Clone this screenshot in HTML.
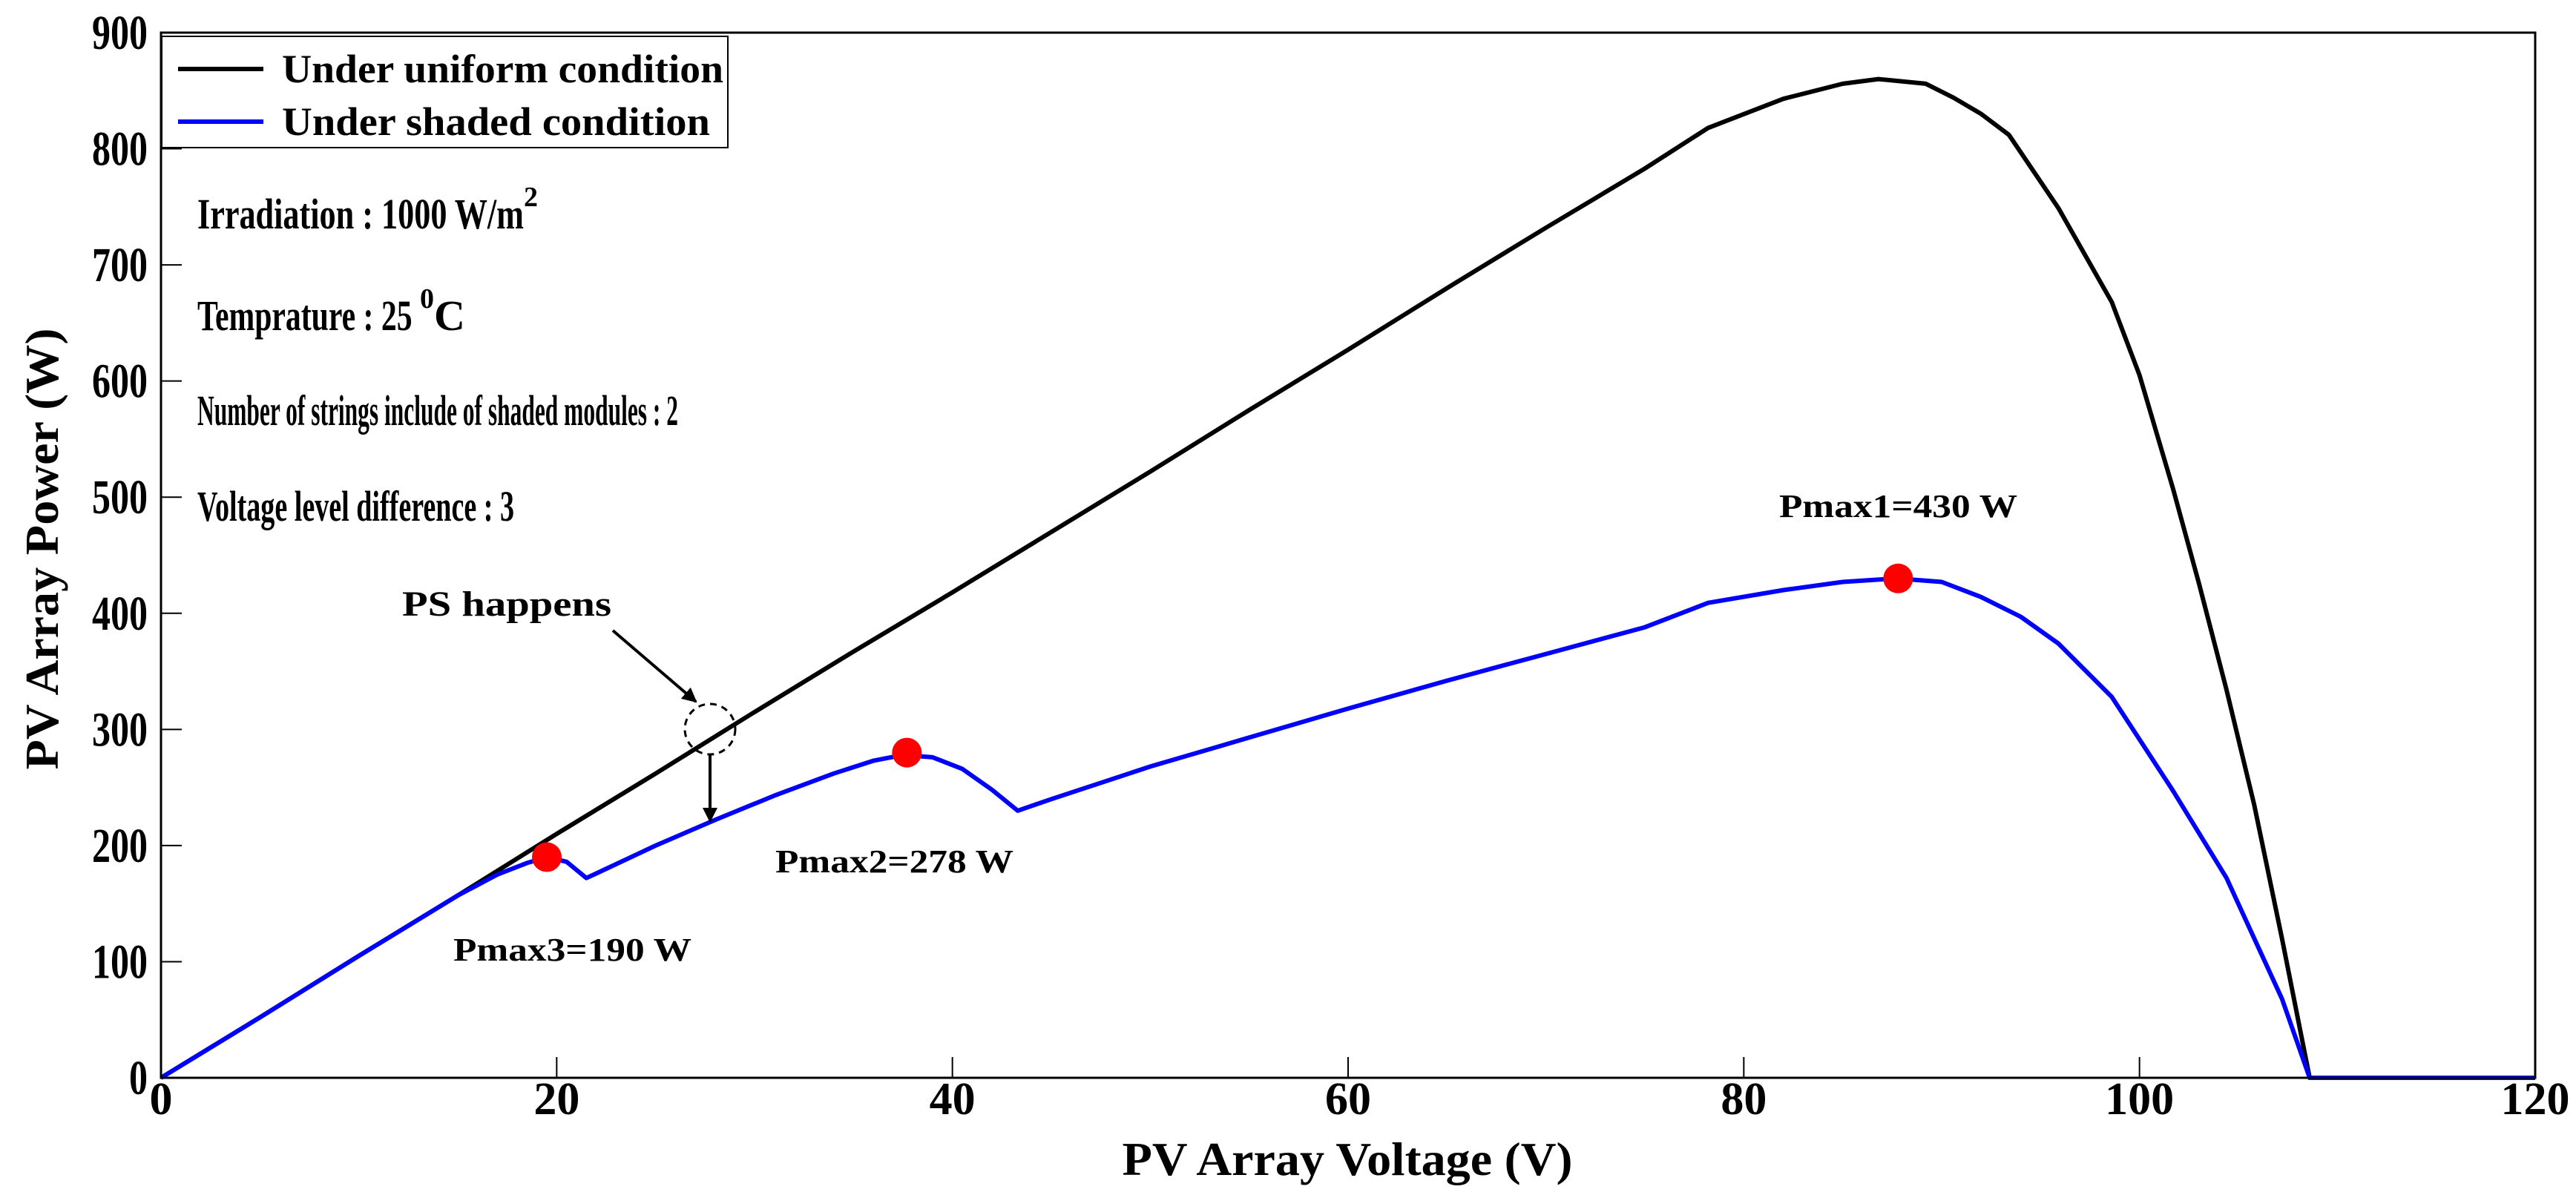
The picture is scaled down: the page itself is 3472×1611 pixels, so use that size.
<!DOCTYPE html>
<html><head><meta charset="utf-8"><style>
html,body{margin:0;padding:0;background:#fff;}
svg{display:block;font-family:"Liberation Serif",serif;font-weight:bold;}
</style></head><body>
<svg id="chart" width="3472" height="1611" viewBox="0 0 3472 1611" xmlns="http://www.w3.org/2000/svg">
<defs>
<marker id="ah" viewBox="0 0 10 10" refX="9" refY="5" markerWidth="5" markerHeight="5" orient="auto"><path d="M0,0 L10,5 L0,10 z" fill="#000"/></marker>
</defs>
<g id="grid"></g>
<g id="plot"></g>
<rect x="217" y="44" width="3200" height="1409" fill="none" stroke="#000" stroke-width="3"/>
<g id="ticks"></g>
<text x="1816" y="1584" font-size="64" text-anchor="middle" textLength="607" lengthAdjust="spacingAndGlyphs">PV Array Voltage (V)</text>
<text transform="translate(78,740) rotate(-90)" font-size="64" text-anchor="middle" textLength="595" lengthAdjust="spacingAndGlyphs">PV Array Power (W)</text>

<g>
<rect x="218" y="49" width="763" height="150" fill="#fff" stroke="#000" stroke-width="2"/>
<line x1="240" y1="93" x2="355" y2="93" stroke="#000" stroke-width="6"/>
<text x="380" y="111" font-size="54" textLength="595" lengthAdjust="spacingAndGlyphs">Under uniform condition</text>
<line x1="240" y1="164" x2="355" y2="164" stroke="#0000ff" stroke-width="6"/>
<text x="380" y="182" font-size="54" textLength="577" lengthAdjust="spacingAndGlyphs">Under shaded condition</text>
</g>

<g font-size="58">
<text x="266" y="308"><tspan textLength="440" lengthAdjust="spacingAndGlyphs">Irradiation : 1000 W/m</tspan><tspan font-size="38" dy="-30">2</tspan></text>
<text x="266" y="445"><tspan textLength="300" lengthAdjust="spacingAndGlyphs">Temprature : 25 </tspan><tspan font-size="38" dy="-30">0</tspan><tspan dy="30">C</tspan></text>
<text x="266" y="573" textLength="648" lengthAdjust="spacingAndGlyphs">Number of strings include of shaded modules : 2</text>
<text x="266" y="702" textLength="427" lengthAdjust="spacingAndGlyphs">Voltage level difference : 3</text>
</g>

<g>
<text x="542" y="830" font-size="48" textLength="282" lengthAdjust="spacingAndGlyphs">PS happens</text>
<line x1="826" y1="850" x2="938" y2="946" stroke="#000" stroke-width="4" marker-end="url(#ah)"/>
<circle cx="957" cy="983" r="34" fill="none" stroke="#000" stroke-width="3" stroke-dasharray="9,7"/>
<line x1="957" y1="1017" x2="957" y2="1107" stroke="#000" stroke-width="4" marker-end="url(#ah)"/>
</g>
<g id="peaks"></g>

<script>
const xTicks=[0,20,40,60,80,100,120];
const yTicks=[0,100,200,300,400,500,600,700,800,900];
const uniformV=[0,5,10,15,20,25,30,35,40,45,50,55,60,65,70,75,78.2,82,85,86.8,89.2,90.6,92,93.4,95.9,98.6,100,101.7,103,104.4,105.8,107.2,108.6,120];
const uniformP=[0,52,105,157,210,262,315,367,418,470,522,575,627,680,732,783,818,843,856,860,856,844,830,812,749,668,605,507,426,334,235,120,0,0];
const shadedV=[0,5,10,15,17,18.5,19.5,20.5,21.5,22,25,28,31,34,36,37.5,39,40.5,42,43.3,45,50,55,60,65,70,75,78.2,82,85,87.7,90,92,94,95.9,98.6,101.7,104.4,105.8,107.2,108.6,120];
const shadedP=[0,52,105,157,175,185,190,186,172,176,200,222,243,262,273,278,276,266,248,230,240,268,293,318,342,365,388,409,420,427,430,427,414,397,374,328,247,172,120,68,0,0];
const peakV=[19.5,37.7,87.8];
const peakP=[190,280,430];
const peakLabels=["Pmax3=190 W","Pmax2=278 W","Pmax1=430 W"];

const X0=217,X1=3417,Y0=1453,Y1=44;
const xs=v=>X0+(v-0)/(120-0)*(X1-X0);
const ys=p=>Y0-(p-0)/(900-0)*(Y0-Y1);
const NS="http://www.w3.org/2000/svg";
function mk(parent,tag,attrs){const e=document.createElementNS(NS,tag);for(const k in attrs)e.setAttribute(k,attrs[k]);document.getElementById(parent).appendChild(e);return e;}

xTicks.forEach(v=>{
  const t=mk('ticks','line',{x1:xs(v),y1:Y0,x2:xs(v),y2:Y0-28,stroke:'#000','stroke-width':2});
  
  
  const l=mk('ticks','text',{x:xs(v),y:1502,'font-size':62,'text-anchor':'middle'});
  
  
  l.textContent=v;
});
yTicks.forEach(p=>{
  const t=mk('ticks','line',{x1:X0,y1:ys(p),x2:X0+28,y2:ys(p),stroke:'#000','stroke-width':2});
  
  
  const s=String(p);
  const l=mk('ticks','text',{x:199,y:ys(p)+22,'font-size':66,'text-anchor':'end',textLength:s.length*25,lengthAdjust:'spacingAndGlyphs'});
  
  
  l.textContent=s;
});
function path(V,P){return V.map((v,i)=>(i?'L':'M')+xs(v).toFixed(1)+','+ys(P[i]).toFixed(1)).join(' ');}
const u=mk('plot','path',{d:path(uniformV,uniformP),fill:'none',stroke:'#000','stroke-width':6,'stroke-linejoin':'round'});


const s=mk('plot','path',{d:path(shadedV,shadedP),fill:'none',stroke:'#0000ff','stroke-width':6,'stroke-linejoin':'round'});


const labelPos=[[611,1295],[1045,1176],[2398,697]];
peakV.forEach((v,i)=>{
  const c=mk('peaks','circle',{cx:xs(v),cy:ys(peakP[i]),r:20,fill:'#ff0000'});
  
  
  const t=mk('peaks','text',{x:labelPos[i][0],y:labelPos[i][1],'font-size':44,textLength:321,lengthAdjust:'spacingAndGlyphs'});
  
  
  t.textContent=peakLabels[i];
});
</script>
</svg>
</body></html>
